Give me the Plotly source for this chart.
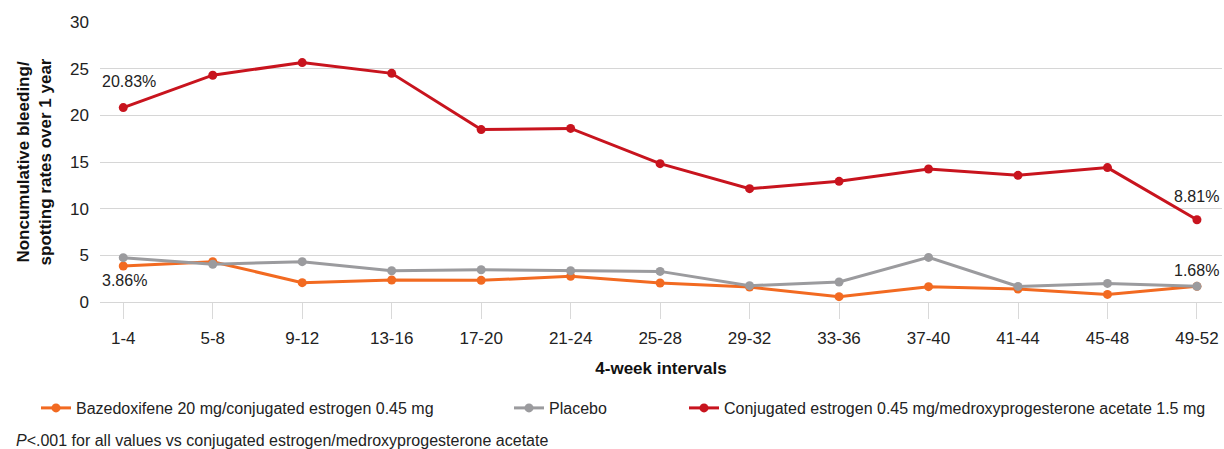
import plotly.graph_objects as go

intervals = ["1-4", "5-8", "9-12", "13-16", "17-20", "21-24", "25-28",
             "29-32", "33-36", "37-40", "41-44", "45-48", "49-52"]
bza_ce = [3.86, 4.32, 2.07, 2.36, 2.32, 2.75, 2.03, 1.60, 0.57, 1.64, 1.39, 0.81, 1.68]
placebo = [4.75, 4.04, 4.32, 3.35, 3.46, 3.35, 3.28, 1.75, 2.14, 4.78, 1.67, 1.99, 1.68]
ce_mpa = [20.83, 24.3, 25.65, 24.5, 18.47, 18.6, 14.82, 12.14, 12.93, 14.25, 13.57, 14.4, 8.81]

names = ["Bazedoxifene 20 mg/conjugated estrogen 0.45 mg",
         "Placebo",
         "Conjugated estrogen 0.45 mg/medroxyprogesterone acetate 1.5 mg"]
colors = ["#F26A21", "#9B9B9E", "#C8141E"]

FONT = "Liberation Sans, Arial, sans-serif"
W, H = 1224, 449

fig = go.Figure()
for vals, name, col, leg in zip([bza_ce, placebo, ce_mpa], names, colors,
                                ["legend", "legend2", "legend3"]):
    fig.add_trace(go.Scatter(
        x=intervals, y=vals, name=name, mode="lines+markers",
        line=dict(color=col, width=3), marker=dict(color=col, size=9),
        legend=leg, hoverinfo="x+y"))

lab_font = dict(family=FONT, size=16, color="#222222")
fig.add_annotation(x=intervals[0], y=ce_mpa[0], text=f"{ce_mpa[0]:.2f}%", showarrow=False,
                   xanchor="left", yanchor="middle", xshift=-23, yshift=26, font=lab_font)
fig.add_annotation(x=intervals[0], y=bza_ce[0], text=f"{bza_ce[0]:.2f}%", showarrow=False,
                   xanchor="left", yanchor="middle", xshift=-23, yshift=-15, font=lab_font)
fig.add_annotation(x=intervals[-1], y=ce_mpa[-1], text=f"{ce_mpa[-1]:.2f}%", showarrow=False,
                   xanchor="right", yanchor="middle", xshift=24, yshift=23, font=lab_font)
fig.add_annotation(x=intervals[-1], y=bza_ce[-1], text=f"{bza_ce[-1]:.2f}%", showarrow=False,
                   xanchor="right", yanchor="middle", xshift=24, yshift=16, font=lab_font)

fig.add_annotation(xref="paper", yref="paper", x=-0.0766, y=-0.493,
                   xanchor="left", yanchor="middle", showarrow=False,
                   text="<i>P</i>&lt;.001 for all values vs conjugated estrogen/medroxyprogesterone acetate",
                   font=dict(family=FONT, size=16, color="#222222"))

leg_common = dict(orientation="h", xref="container", yref="container",
                  yanchor="middle", y=1 - 408 / H, xanchor="left",
                  font=dict(family=FONT, size=16, color="#222222"),
                  bgcolor="rgba(0,0,0,0)", borderwidth=0)
fig.update_layout(
    legend=dict(x=36 / W, **leg_common),
    legend2=dict(x=509 / W, **leg_common),
    legend3=dict(x=684 / W, **leg_common),
)

fig.update_layout(
    width=W, height=H,
    margin=dict(l=100, r=2, t=22, b=147, autoexpand=False),
    paper_bgcolor="white", plot_bgcolor="white",
    font=dict(family=FONT, size=16, color="#222222"),
    showlegend=True,
    xaxis=dict(
        type="category", range=[-0.26, 12.28], showgrid=False, zeroline=False,
        ticks="outside", ticklen=16, tickcolor="#d9d9d9", tickwidth=1,
        showline=False, ticklabelstandoff=5,
        tickfont=dict(family=FONT, size=17, color="#222222"),
        title=dict(text="<b>4-week intervals</b>", standoff=14,
                   font=dict(family=FONT, size=17, color="#111111")),
        automargin=False),
    yaxis=dict(
        range=[0, 30], tickvals=[0, 5, 10, 15, 20, 25, 30],
        showgrid=True, gridcolor="#d6d6d6", gridwidth=1,
        zeroline=True, zerolinecolor="#d6d6d6", zerolinewidth=1,
        showline=False, ticks="", ticklabelstandoff=10,
        tickfont=dict(family=FONT, size=17, color="#222222"),
        title=dict(text="<b>Noncumulative bleeding/<br>spotting rates over 1 year</b>",
                   standoff=14, font=dict(family=FONT, size=17, color="#111111")),
        automargin=False),
)

fig.write_html("out.html", config={"displayModeBar": False},
               post_script="document.body.style.margin='0';document.body.style.overflow='hidden';")
